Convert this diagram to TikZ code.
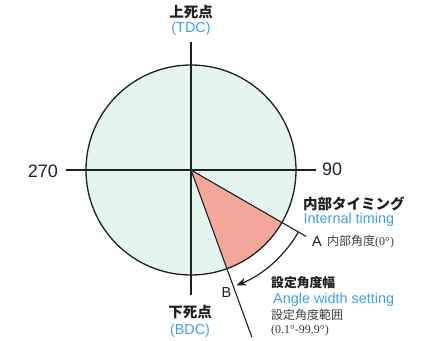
\documentclass[tikz,border=0pt]{standalone}
\usepackage{fontspec}
\setmainfont{Liberation Sans}
\newfontfamily\jp{Noto Sans CJK JP}
\newfontfamily\serifnum{Liberation Serif}
\usetikzlibrary{arrows.meta}
\definecolor{mint}{RGB}{228,245,238}
\definecolor{salmon}{RGB}{244,166,154}
\definecolor{skyblue}{RGB}{62,160,236}
\definecolor{ink}{RGB}{30,30,36}
\definecolor{navy}{RGB}{28,34,51}
\definecolor{graytxt}{RGB}{60,60,60}
\tikzset{
  axis/.style={draw=ink, line width=1.1pt},
  rim/.style={draw=ink, line width=1.3pt},
  ray/.style={draw=ink, line width=1.1pt},
  txt/.style={inner sep=0pt, anchor=base west},
  ctxt/.style={inner sep=0pt, anchor=base},
  jpbold/.style={font=\jp\bfseries\fontsize{14.5}{17}\selectfont, text=ink},
  jpsmall/.style={font=\jp\fontsize{12}{14}\selectfont, text=graytxt},
  entxt/.style={font=\fontsize{14.4}{17}\selectfont, text=skyblue},
  numtxt/.style={font=\fontsize{18}{21}\selectfont, text=navy},
  lettxt/.style={font=\fontsize{14.5}{17}\selectfont, text=ink},
}
\begin{document}
\begin{tikzpicture}[x=1pt, y=-1pt]
\useasboundingbox (0,0) rectangle (422,340);
\coordinate (C) at (191,170);
% disc
\fill[mint] (C) circle[radius=105];
\fill[salmon] (C) -- ++(30:105) arc[start angle=30, end angle=70, radius=105] -- cycle;
\draw[rim] (C) circle[radius=105];
% axes
\coordinate (top) at (191,42);
\coordinate (bot) at (191,295);
\coordinate (lft) at (66,170);
\coordinate (rgt) at (316,170);
\draw[axis] (top) -- (bot);
\draw[axis] (lft) -- (rgt);
% rays
\path (C) ++(30:133) coordinate (Aend);
\path (C) ++(70:178) coordinate (Bend);
\draw[ray] (C) -- (Aend);
\draw[ray] (C) -- (Bend);
% angle arrow
\path (C) ++(30:124) coordinate (arcS);
\draw[ink, line width=1.2pt, -{Stealth[length=10pt,width=8pt]}] (arcS) arc[start angle=30, end angle=68.5, radius=124];
% labels
\node[ctxt, jpbold] (tdcj) at (191,17) {上死点};
\node[ctxt, entxt] (tdce) at (191,32.5) {(TDC)};
\node[ctxt, jpbold] (bdcj) at (190,317) {下死点};
\node[ctxt, entxt] (bdce) at (190,334) {(BDC)};
\node[inner sep=0pt, anchor=base east, numtxt] (n270) at (58,177) {270};
\node[txt, numtxt] (n90) at (322,175) {90};
\node[txt, jpbold] (intj) at (303,209) {内部タイミング};
\node[txt, entxt] (inte) at (303.5,223) {Internal timing};
\node[txt, lettxt] (la) at (312,246) {A};
\node[txt, jpsmall] (inta) at (327,245) {内部角度\serifnum(0°)};
\node[txt, lettxt] (lb) at (221.5,297) {B};
\node[txt, jpbold, font=\jp\bfseries\fontsize{12.8}{15}\selectfont] (angj) at (271,287) {設定角度幅};
\node[txt, entxt] (ange) at (273,303) {Angle width setting};
\node[txt, jpsmall] (rngj) at (271,319) {設定角度範囲};
\node[txt, font=\serifnum\fontsize{12}{14}\selectfont, text=graytxt] (rngn) at (271,333) {(0.1°-99.9°)};
\end{tikzpicture}
\end{document}
